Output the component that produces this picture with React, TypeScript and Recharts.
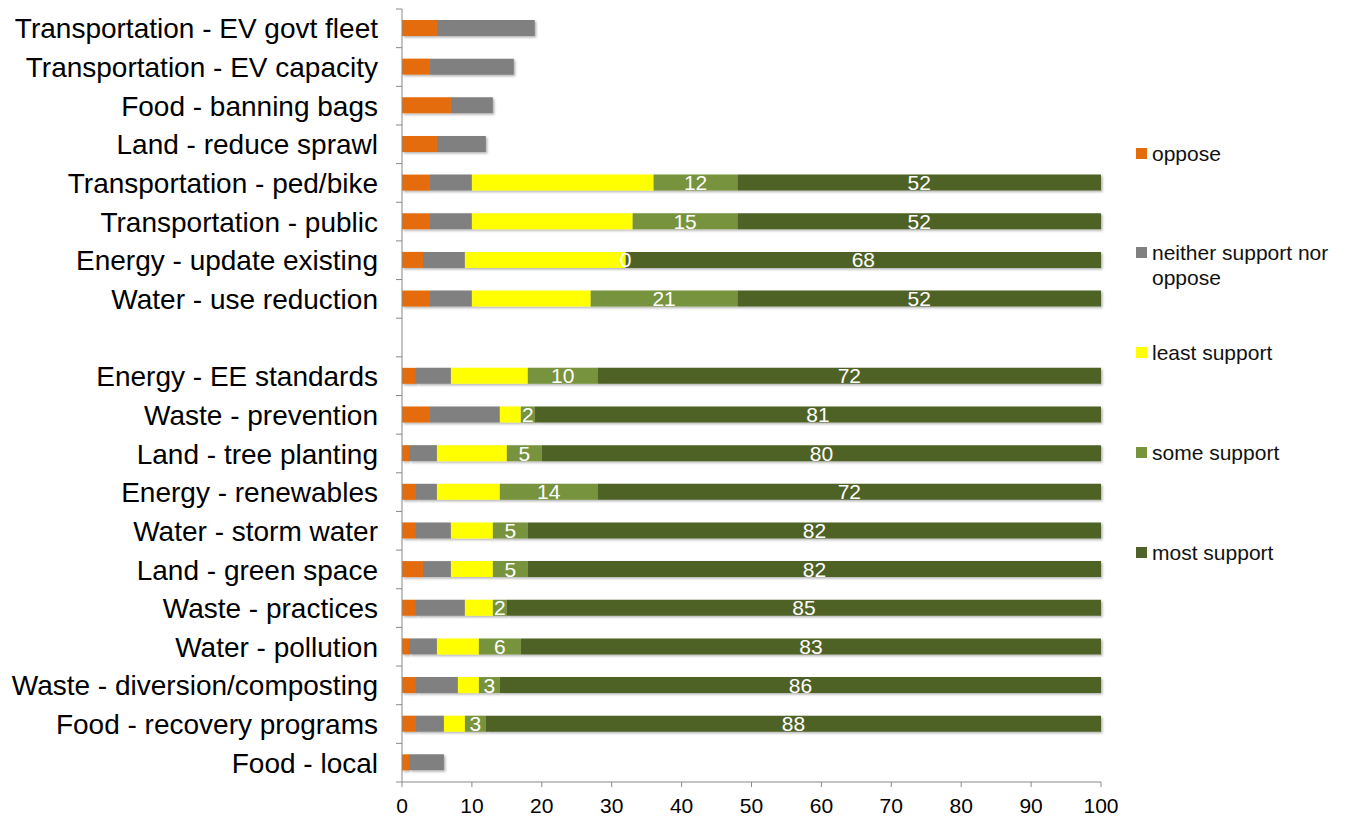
import { BarChart, Bar, XAxis, YAxis, Legend, LabelList } from "recharts";

const categories = [
  "Transportation - EV govt fleet",
  "Transportation - EV capacity",
  "Food - banning bags",
  "Land - reduce sprawl",
  "Transportation - ped/bike",
  "Transportation - public",
  "Energy - update existing",
  "Water - use reduction",
  " ",
  "Energy - EE standards",
  "Waste - prevention",
  "Land - tree planting",
  "Energy - renewables",
  "Water - storm water",
  "Land - green space",
  "Waste - practices",
  "Water - pollution",
  "Waste - diversion/composting",
  "Food - recovery programs",
  "Food - local",
];

const oppose = [5, 4, 7, 5, 4, 4, 3, 4, null, 2, 4, 1, 2, 2, 3, 2, 1, 2, 2, 1];
const neither = [14, 12, 6, 7, 6, 6, 6, 6, null, 5, 10, 4, 3, 5, 4, 7, 4, 6, 4, 5];
const least = [null, null, null, null, 26, 23, 23, 17, null, 11, 3, 10, 9, 6, 6, 4, 6, 3, 3, null];
const some = [null, null, null, null, 12, 15, 0, 21, null, 10, 2, 5, 14, 5, 5, 2, 6, 3, 3, null];
const most = [null, null, null, null, 52, 52, 68, 52, null, 72, 81, 80, 72, 82, 82, 85, 83, 86, 88, null];

const xTicks = [0, 10, 20, 30, 40, 50, 60, 70, 80, 90, 100];

const series = [
  { key: "oppose", name: "oppose", color: "#E46C0A" },
  { key: "neither", name: "neither support nor oppose", color: "#808080" },
  { key: "least", name: "least support", color: "#FFFF00" },
  { key: "some", name: "some support", color: "#77933C" },
  { key: "most", name: "most support", color: "#4F6228" },
];

const data = categories.map((name, i) => ({
  name,
  oppose: oppose[i],
  neither: neither[i],
  least: least[i],
  some: some[i],
  most: most[i],
}));

const FONT = "'Liberation Sans', Arial, sans-serif";
const AXIS = "#898989";
const TOP = 9;
const BOTTOM = 782;
const STEP = (BOTTOM - TOP) / categories.length;

const YTick = (props: any) => {
  const { x, y, index } = props;
  const ax = x + 8; // tick x is offset by tickSize + tickMargin
  return (
    <g>
      <text
        x={ax - 24}
        y={y}
        dy="0.36em"
        textAnchor="end"
        fontSize={28}
        fontFamily={FONT}
        fill="#000"
      >
        {props.payload.value}
      </text>
      <line x1={ax - 6} x2={ax} y1={y - STEP / 2} y2={y - STEP / 2} stroke={AXIS} />
      {index === categories.length - 1 && (
        <line x1={ax - 6} x2={ax} y1={y + STEP / 2} y2={y + STEP / 2} stroke={AXIS} />
      )}
    </g>
  );
};

// the zero "some support" value has no bar width, so its label sits at the end of the yellow bar
const ZeroSomeLabel = (props: any) => {
  const { x, y, width, height, value } = props;
  if (value !== 0) return null;
  return (
    <text
      x={x + width}
      y={y + height / 2}
      dy="0.36em"
      textAnchor="middle"
      fill="#fff"
      fontSize={21}
      fontFamily={FONT}
    >
      {value}
    </text>
  );
};

const legendRows = [
  { key: "oppose", lines: ["oppose"], top: 141 },
  { key: "neither", lines: ["neither support nor", "oppose"], top: 240 },
  { key: "least", lines: ["least support"], top: 340 },
  { key: "some", lines: ["some support"], top: 440 },
  { key: "most", lines: ["most support"], top: 540 },
];

const renderLegend = () => (
  <div style={{ position: "relative", width: 246, height: 600, fontFamily: FONT }}>
    {legendRows.map((r) => {
      const s = series.find((v) => v.key === r.key)!;
      return (
        <div key={r.key} style={{ position: "absolute", left: 35, top: r.top }}>
          <div
            style={{
              position: "absolute",
              left: 0,
              top: 7,
              width: 11,
              height: 11,
              background: s.color,
            }}
          />
          <div style={{ marginLeft: 16, fontSize: 21, lineHeight: "25px", color: "#111", whiteSpace: "nowrap" }}>
            {r.lines.map((l, i) => (
              <div key={i}>{l}</div>
            ))}
          </div>
        </div>
      );
    })}
  </div>
);

const fmt = (v: any) => (v === null || v === undefined || v === 0 ? "" : String(v));

export default function App() {
  return (
    <div style={{ position: "absolute", left: 0, top: 0, background: "white" }}>
      <BarChart
        width={1347}
        height={817}
        data={data}
        layout="vertical"
        margin={{ top: TOP, right: 0, bottom: 0, left: 0 }}
        barSize={16}
      >
        <defs>
          <filter id="barShadow" x="-5%" y="-30%" width="115%" height="180%">
            <feDropShadow dx="1.5" dy="1.5" stdDeviation="1" floodColor="#000" floodOpacity="0.3" />
          </filter>
        </defs>
        <XAxis
          type="number"
          domain={[0, 100]}
          ticks={xTicks}
          interval={0}
          height={35}
          stroke={AXIS}
          tickSize={5}
          tickMargin={11}
          tick={{ fill: "#000", fontSize: 21, fontFamily: FONT }}
        />
        <YAxis
          type="category"
          dataKey="name"
          width={402}
          stroke={AXIS}
          tickLine={false}
          interval={0}
          tick={<YTick />}
        />
        <Legend
          content={renderLegend}
          layout="vertical"
          align="right"
          verticalAlign="top"
          wrapperStyle={{ position: "absolute", left: 1101, top: 0, width: 246, height: 600 }}
        />
        {series.map((s) => (
          <Bar
            key={s.key}
            dataKey={s.key}
            name={s.name}
            stackId="a"
            fill={s.color}
            filter="url(#barShadow)"
            isAnimationActive={false}
          >
            {(s.key === "some" || s.key === "most") && (
              <LabelList
                dataKey={s.key}
                position="center"
                formatter={fmt}
                fill="#fff"
                fontSize={21}
                fontFamily={FONT}
              />
            )}
            {s.key === "least" && <LabelList dataKey="some" content={<ZeroSomeLabel />} />}
          </Bar>
        ))}
      </BarChart>
    </div>
  );
}
